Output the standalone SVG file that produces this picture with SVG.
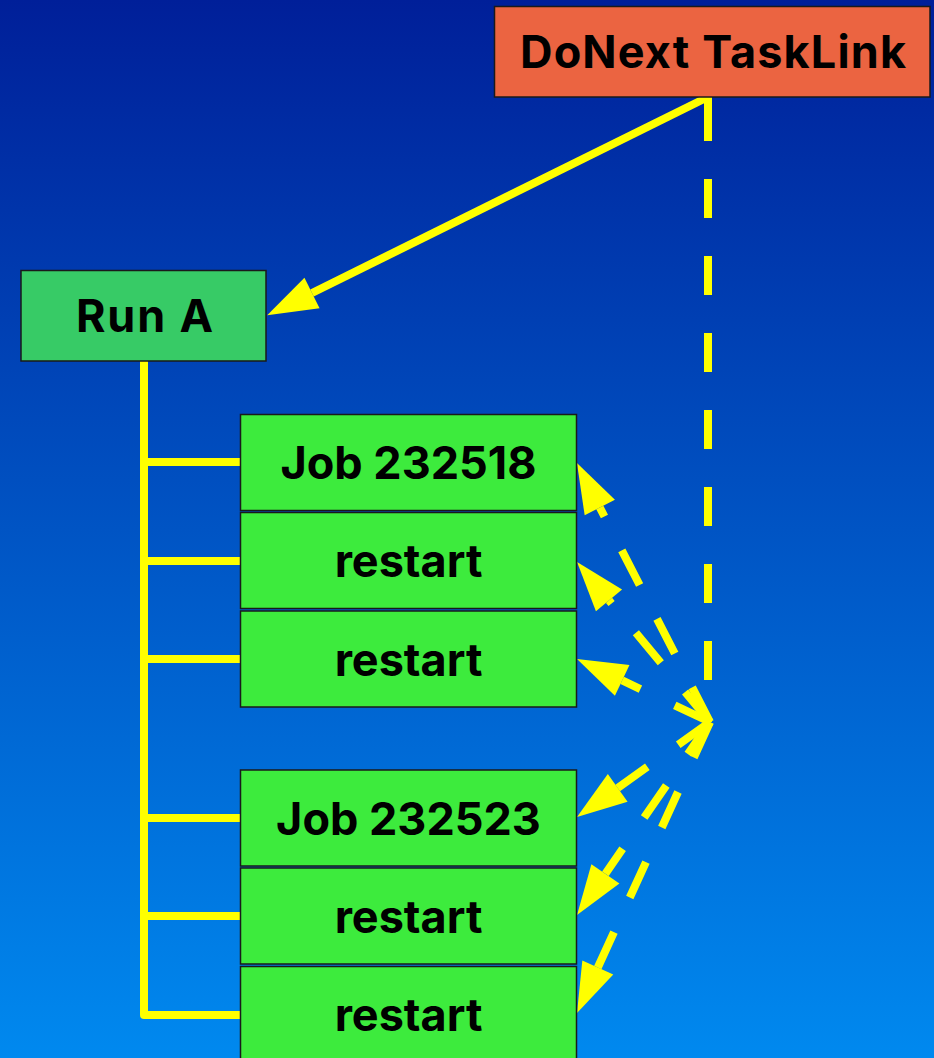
<svg xmlns="http://www.w3.org/2000/svg" width="934" height="1058" viewBox="0 0 934 1058">
  <defs>
    <linearGradient id="bg" x1="0" y1="0" x2="0" y2="1">
      <stop offset="0" stop-color="#001f99"/>
      <stop offset="1" stop-color="#0089ef"/>
    </linearGradient>
    <marker id="head" markerUnits="userSpaceOnUse" orient="auto" refX="0" refY="0" markerWidth="60" markerHeight="40" overflow="visible">
      <path d="M0,-17 L50,0 L0,17 Z" fill="#ffff00"/>
    </marker>
    <style>
      .box { stroke: #1a1a1a; stroke-width: 1.5; }
      .job { fill: #3deb3d; }
      .run { fill: #37cb66; }
      .task { fill: #eb6441; }
      .label { font-family: Inter, "Noto Sans", "Liberation Sans", sans-serif; font-weight: bold; font-size: 45px; fill: #000; text-anchor: middle; }
      .wire { fill: none; stroke: #ffff00; stroke-width: 8; }
      .dash { fill: none; stroke: #ffff00; stroke-width: 8; stroke-dasharray: 39 38; }
    </style>
  </defs>

  <rect x="0" y="0" width="934" height="1058" fill="url(#bg)"/>

  <g id="connectors">
    <!-- tree from Run A down to every job/restart -->
    <path class="wire" stroke-linejoin="round" d="M144,361 V1015 H240 M144,462 H240 M144,561 H240 M144,659 H240 M144,818 H240 M144,916 H240"/>
    <!-- DoNext TaskLink to Run A -->
    <line class="wire" stroke-width="7" x1="708" y1="97" x2="312" y2="293" marker-end="url(#head)"/>
    <!-- dashed drop from DoNext TaskLink to the fan point -->
    <line class="wire" x1="708" y1="97" x2="708" y2="141"/>
    <line class="dash" x1="708" y1="179" x2="708" y2="722"/>
    <!-- fan of dashed links to each job and restart -->
    <line class="dash" x1="710" y1="722" x2="599.8" y2="507.5" marker-end="url(#head)"/>
    <line class="dash" x1="710" y1="722" x2="609.0" y2="600.4" marker-end="url(#head)"/>
    <line class="dash" x1="710" y1="722" x2="622.2" y2="680.4" marker-end="url(#head)"/>
    <line class="dash" x1="710" y1="722" x2="617.7" y2="787.9" marker-end="url(#head)"/>
    <line class="dash" x1="710" y1="722" x2="605.4" y2="873.8" marker-end="url(#head)"/>
    <line class="dash" x1="710" y1="722" x2="597.8" y2="967.5" marker-end="url(#head)"/>
  </g>

  <g id="donext-tasklink">
    <rect class="box task" x="494.5" y="6.5" width="435.5" height="90.5"/>
    <text class="label" x="713" y="67.5" textLength="386">DoNext TaskLink</text>
  </g>

  <g id="run-a">
    <rect class="box run" x="21" y="270.5" width="245" height="90.5"/>
    <text class="label" x="144.5" y="332" textLength="137">Run A</text>
  </g>

  <g id="job-232518">
    <rect class="box job" x="240.5" y="414.5" width="336" height="96"/>
    <text class="label" x="408.5" y="479">Job 232518</text>
  </g>

  <g id="restart-1">
    <rect class="box job" x="240.5" y="512.5" width="336" height="96"/>
    <text class="label" x="408.5" y="577">restart</text>
  </g>

  <g id="restart-2">
    <rect class="box job" x="240.5" y="611" width="336" height="96"/>
    <text class="label" x="408.5" y="675.5">restart</text>
  </g>

  <g id="job-232523">
    <rect class="box job" x="240.5" y="770" width="336" height="96"/>
    <text class="label" x="408.5" y="834.5">Job 232523</text>
  </g>

  <g id="restart-3">
    <rect class="box job" x="240.5" y="868" width="336" height="96"/>
    <text class="label" x="408.5" y="932.5">restart</text>
  </g>

  <g id="restart-4">
    <rect class="box job" x="240.5" y="966.5" width="336" height="96"/>
    <text class="label" x="408.5" y="1031">restart</text>
  </g>
</svg>
